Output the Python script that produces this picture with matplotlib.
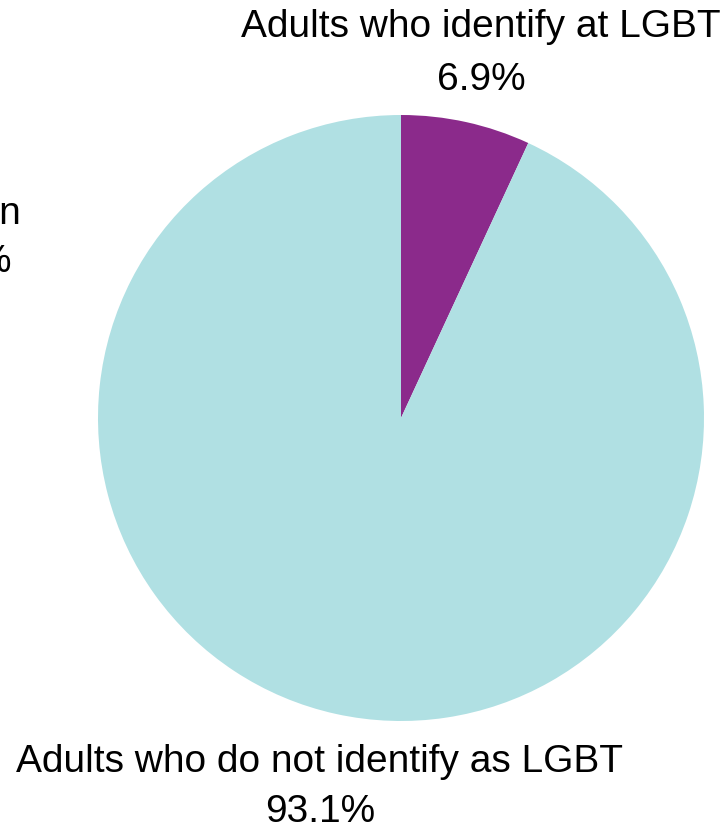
import matplotlib
matplotlib.use("Agg")
import matplotlib.pyplot as plt

labels = ["Adults who identify at LGBT", "Adults who do not identify as LGBT"]
values = [6.9, 93.1]
colors = ["#8B2A8B", "#B0E0E3"]

W, H = 727, 834
fig = plt.figure(figsize=(W / 100, H / 100), dpi=100)
plt.rcParams['font.family'] = ['Liberation Sans', 'DejaVu Sans']

cx, cy, r = 401, 418, 303
ax = fig.add_axes([(cx - r) / W, (H - cy - r) / H, 2 * r / W, 2 * r / H])
ax.pie(values, colors=colors, startangle=90, counterclock=False, radius=1,
       wedgeprops=dict(linewidth=0))
ax.set_xlim(-1, 1)
ax.set_ylim(-1, 1)
ax.set_aspect('equal')
ax.axis('off')

fs = 28
fig.text(481 / W, 1 - 27 / H, labels[0], ha='center', va='center', fontsize=fs)
fig.text(481 / W, 1 - 80 / H, f"{values[0]}%", ha='center', va='center', fontsize=fs)
fig.text(320 / W, 1 - 762 / H, labels[1], ha='center', va='center', fontsize=fs)
fig.text(320 / W, 1 - 812 / H, f"{values[1]}%", ha='center', va='center', fontsize=fs)

# clipped label fragment from the left edge
fig.text(21 / W, 1 - 214 / H, "Adults who identify as lesbian", ha='right', va='center', fontsize=fs)
fig.text(12 / W, 1 - 262 / H, "0.0%", ha='right', va='center', fontsize=fs)

fig.savefig("out.png", dpi=100)
